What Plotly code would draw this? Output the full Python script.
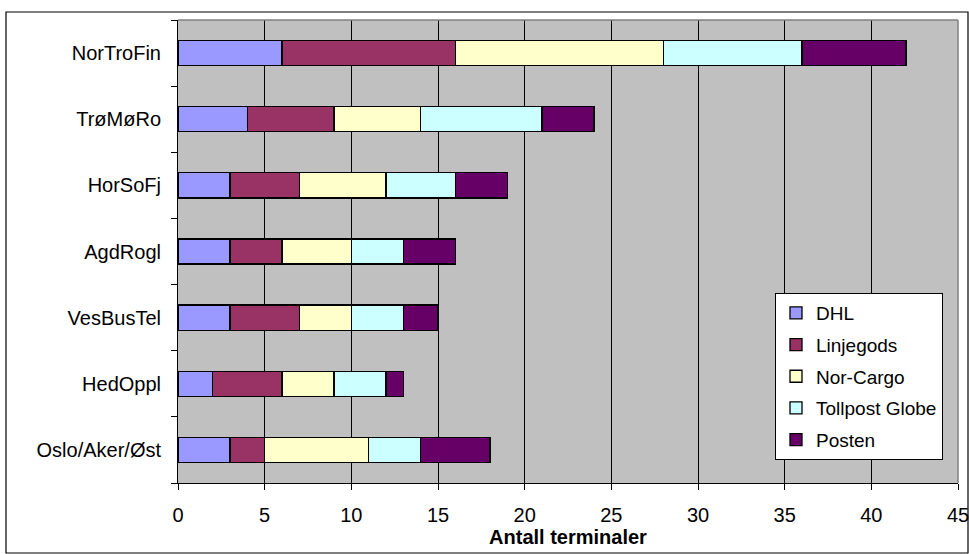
import plotly.graph_objects as go

# Regions, listed bottom to top as they appear on the chart
regions = ["Oslo/Aker/Øst", "HedOppl", "VesBusTel", "AgdRogl", "HorSoFj", "TrøMøRo", "NorTroFin"]

# Number of terminals per carrier in each region
dhl = [3, 2, 3, 3, 3, 4, 6]
linjegods = [2, 4, 4, 3, 4, 5, 10]
nor_cargo = [6, 3, 3, 4, 5, 5, 12]
tollpost = [3, 3, 3, 3, 4, 7, 8]
posten = [4, 1, 2, 3, 3, 3, 6]

series = [
    ("DHL", dhl, "#9999FF"),
    ("Linjegods", linjegods, "#993366"),
    ("Nor-Cargo", nor_cargo, "#FFFFCC"),
    ("Tollpost Globe", tollpost, "#CCFFFF"),
    ("Posten", posten, "#660066"),
]

font_family = "Liberation Sans, Arial, sans-serif"
fs = 20

fig = go.Figure()
for name, vals, color in series:
    fig.add_trace(go.Bar(
        y=regions, x=vals, name=name, orientation="h",
        legendgroup=name,
        marker=dict(color=color, line=dict(color="#000000", width=1.3)),
    ))

W, H = 969, 554
L, R, T, B = 178, 11, 20, 71
pw, ph = W - L - R, H - T - B

def px_x(p):
    return (p - L) / pw

def px_y(p):
    return (H - B - p) / ph

fig.update_layout(
    width=W, height=H,
    margin=dict(l=L, r=R, t=T, b=B, pad=0, autoexpand=False),
    barmode="stack",
    bargap=0.62,
    paper_bgcolor="white",
    plot_bgcolor="#C0C0C0",
    font=dict(family=font_family, size=fs, color="#000000"),
    showlegend=True,
    legend=dict(
        x=px_x(775), y=px_y(293), xanchor="left", yanchor="top",
        bgcolor="white", bordercolor="#000000", borderwidth=1,
        traceorder="grouped", tracegroupgap=4,
        font=dict(size=19, family=font_family),
        itemwidth=30,
    ),
    xaxis=dict(
        range=[0, 45], dtick=5, tick0=0,
        automargin=False,
        showgrid=True, gridcolor="#000000", gridwidth=1,
        showline=True, linecolor="#000000", linewidth=1,
        ticks="outside", ticklen=6, tickcolor="#000000",
        zeroline=False,
        tickfont=dict(size=fs),
        ticklabelstandoff=8,
        ticklabeloverflow="allow",
        title=dict(text="<b>Antall terminaler</b>", font=dict(size=fs), standoff=4),
    ),
    yaxis=dict(
        categoryorder="array", categoryarray=regions,
        automargin=False,
        showgrid=False,
        showline=True, linecolor="#000000", linewidth=1,
        ticks="outside", ticklen=6, tickcolor="#000000",
        tickson="boundaries",
        tickfont=dict(size=fs),
        ticklabelstandoff=12,
    ),
    shapes=[
        # outer frame of the chart
        dict(type="rect", xref="paper", yref="paper",
             x0=px_x(6), x1=px_x(968), y0=px_y(553), y1=px_y(12),
             line=dict(color="#000000", width=1.2), fillcolor="rgba(0,0,0,0)",
             layer="below"),
        # gray top and right edges of the plot area
        dict(type="line", xref="paper", yref="paper", x0=0, x1=1, y0=1, y1=1,
             line=dict(color="#808080", width=1.5)),
        dict(type="line", xref="paper", yref="paper", x0=1, x1=1, y0=0, y1=1,
             line=dict(color="#808080", width=1.5)),
    ],
)

fig.write_html("out.html")
